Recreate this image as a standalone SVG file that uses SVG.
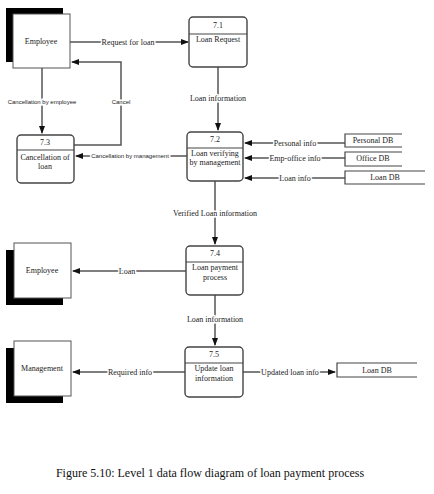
<svg xmlns="http://www.w3.org/2000/svg" width="434" height="494" viewBox="0 0 434 494">
<defs>
<marker id="ah" markerWidth="8" markerHeight="6" refX="7" refY="3" orient="auto" markerUnits="userSpaceOnUse">
<path d="M0,0 L8,3 L0,6 Z" fill="#111"/>
</marker>
<style>
.proc{fill:#fff;stroke:#444;stroke-width:1.4}
.div{stroke:#444;stroke-width:1.2}
.shadow{fill:#000}
.ent{fill:#fff;stroke:#555;stroke-width:1}
.t{font-family:"Liberation Serif",serif;font-size:8px;fill:#222;text-anchor:middle}
.s{font-family:"Liberation Sans",sans-serif;font-size:6px;fill:#222;text-anchor:middle}
.lbl{paint-order:stroke;stroke:#fff;stroke-width:3}
.flow{fill:none;stroke:#555;stroke-width:1.5}
.store{fill:none;stroke:#444;stroke-width:1.2}
</style>
</defs>
<rect width="434" height="494" fill="#fff"/>

<g id="connectors">
<path class="flow" d="M70,42 H188" marker-end="url(#ah)"/>
<path class="flow" d="M218,67 V130" marker-end="url(#ah)"/>
<path class="flow" d="M74,145 H121 V62 H72" marker-end="url(#ah)"/>
<path class="flow" d="M42,68 V133" marker-end="url(#ah)"/>
<path class="flow" d="M187,156 H76" marker-end="url(#ah)"/>
<path class="flow" d="M345,143 H245" marker-end="url(#ah)"/>
<path class="flow" d="M345,158 H245" marker-end="url(#ah)"/>
<path class="flow" d="M345,178 H245" marker-end="url(#ah)"/>
<path class="flow" d="M215,181 V244" marker-end="url(#ah)"/>
<path class="flow" d="M186,271 H73" marker-end="url(#ah)"/>
<path class="flow" d="M215,295 V345" marker-end="url(#ah)"/>
<path class="flow" d="M185,372 H73" marker-end="url(#ah)"/>
<path class="flow" d="M243,372 H335" marker-end="url(#ah)"/>
<text class="t lbl" x="128" y="45">Request for loan</text>
<text class="t lbl" x="218" y="101">Loan information</text>
<text class="s lbl" x="121" y="104">Cancel</text>
<text class="s lbl" x="42" y="104">Cancellation by employee</text>
<text class="s lbl" x="130" y="158">Cancellation by management</text>
<text class="t lbl" x="295" y="146">Personal info</text>
<text class="t lbl" x="295" y="161">Emp-office info</text>
<text class="t lbl" x="295" y="181">Loan info</text>
<text class="t lbl" x="215" y="216">Verified Loan information</text>
<text class="t lbl" x="127" y="274">Loan</text>
<text class="t lbl" x="215" y="322">Loan information</text>
<text class="t lbl" x="130" y="375">Required info</text>
<text class="t lbl" x="290" y="375">Updated loan info</text>
</g>

<g id="employee1">
<rect class="shadow" x="6" y="8" width="57" height="54"/>
<rect class="ent" x="13" y="14" width="57" height="54"/>
<text class="t" x="41" y="44">Employee</text>
</g>

<g id="p71">
<rect class="proc" x="189" y="17" width="58" height="50" rx="4"/>
<line class="div" x1="189" y1="34" x2="247" y2="34"/>
<text class="t" x="218" y="28">7.1</text>
<text class="t" x="218" y="42">Loan Request</text>
</g>

<g id="p73">
<rect class="proc" x="17" y="135" width="57" height="48" rx="4"/>
<line class="div" x1="17" y1="150" x2="74" y2="150"/>
<text class="t" x="45" y="145">7.3</text>
<text class="t" x="45" y="160">Cancellation of</text>
<text class="t" x="45" y="169">loan</text>
</g>

<g id="p72">
<rect class="proc" x="187" y="132" width="56" height="49" rx="4"/>
<line class="div" x1="187" y1="148" x2="243" y2="148"/>
<text class="t" x="215" y="142">7.2</text>
<text class="t" x="215" y="156">Loan verifying</text>
<text class="t" x="215" y="165">by management</text>
</g>

<g id="personalDB">
<path class="store" d="M402,134 H345 V147 H402"/>
<text class="t" x="373" y="143">Personal DB</text>
</g>
<g id="officeDB">
<path class="store" d="M402,152 H345 V166 H402"/>
<text class="t" x="373" y="161">Office DB</text>
</g>
<g id="loanDB1">
<path class="store" d="M425,171 H345 V184 H425"/>
<text class="t" x="385" y="180">Loan DB</text>
</g>

<g id="p74">
<rect class="proc" x="186" y="246" width="57" height="49" rx="4"/>
<line class="div" x1="186" y1="262" x2="243" y2="262"/>
<text class="t" x="215" y="256">7.4</text>
<text class="t" x="215" y="270">Loan payment</text>
<text class="t" x="215" y="280">process</text>
</g>

<g id="employee2">
<rect class="shadow" x="6" y="250" width="57" height="55"/>
<rect class="ent" x="14" y="243" width="57" height="55"/>
<text class="t" x="42" y="273">Employee</text>
</g>

<g id="p75">
<rect class="proc" x="185" y="347" width="58" height="50" rx="4"/>
<line class="div" x1="185" y1="363" x2="243" y2="363"/>
<text class="t" x="214" y="357">7.5</text>
<text class="t" x="214" y="371">Update loan</text>
<text class="t" x="214" y="381">information</text>
</g>

<g id="management">
<rect class="shadow" x="6" y="348" width="57" height="55"/>
<rect class="ent" x="14" y="341" width="57" height="55"/>
<text class="t" x="42" y="371">Management</text>
</g>

<g id="loanDB2">
<path class="store" d="M417,363 H337 V377 H417"/>
<text class="t" x="377" y="373">Loan DB</text>
</g>

<text x="210" y="477" style="font-family:'Liberation Serif',serif;font-size:12px;fill:#111;text-anchor:middle">Figure 5.10: Level 1 data flow diagram of loan payment process</text>
</svg>
